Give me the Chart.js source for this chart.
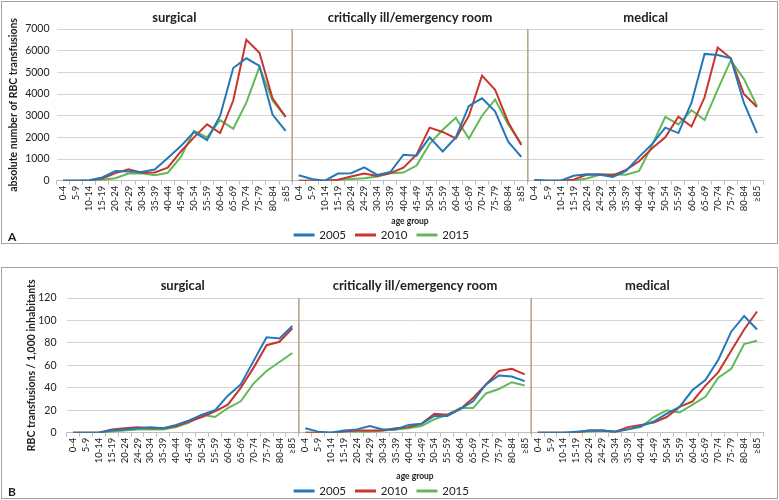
<!DOCTYPE html>
<html>
<head>
<meta charset="utf-8">
<script src="https://cdn.jsdelivr.net/npm/chart.js@4"></script>
<style>
	body { margin: 0; background: #fff; width: 779px; height: 500px; position: relative; overflow: hidden; }
	.frame { position: absolute; border: 1px solid #a3a3a3; box-sizing: border-box; pointer-events: none; }
	#frameA { left: 1px; top: 1px; width: 777px; height: 243px; }
	#frameB { left: 1px; top: 267px; width: 777px; height: 232px; }
	.wrap { position: absolute; left: 0; width: 779px; }
	#wrapA { top: 0; height: 247px; }
	#wrapB { top: 263px; height: 237px; }
</style>
</head>
<body>
<div class="wrap" id="wrapA"><canvas id="chartA" width="779" height="247"></canvas></div>
<div class="wrap" id="wrapB"><canvas id="chartB" width="779" height="237"></canvas></div>
<div class="frame" id="frameA"></div>
<div class="frame" id="frameB"></div>
<script>
	// age groups (x axis, repeated for each ward)
	const ageGroups = ['0-4','5-9','10-14','15-19','20-24','24-29','30-34','35-39','40-44','45-49','50-54','55-59','60-64','65-69','70-74','75-79','80-84','≥85'];
	const wards = ['surgical', 'critically ill/emergency room', 'medical'];
	const years = ['2005', '2010', '2015'];
	const colors = ['#2477b9', '#c9342c', '#62b957'];

	// A : absolute number of RBC transfusions
	const absSurgical2005 = [0, 0, 20, 150, 450, 430, 400, 520, 1050, 1600, 2250, 1880, 3000, 5200, 5650, 5300, 3050, 2300];
	const absSurgical2010 = [0, 0, 10, 100, 350, 530, 370, 380, 600, 1350, 2000, 2600, 2200, 3700, 6500, 5900, 3800, 2950];
	const absSurgical2015 = [0, 0, 0, 50, 120, 330, 350, 250, 370, 1100, 2300, 2000, 2800, 2400, 3600, 5250, 3700, 2950];
	const absCritical2005 = [250, 80, 0, 330, 350, 620, 270, 400, 1200, 1150, 2000, 1350, 2000, 3450, 3800, 3200, 1800, 1100];
	const absCritical2010 = [0, 0, 0, 50, 200, 330, 220, 350, 600, 1200, 2450, 2250, 1950, 3000, 4850, 4200, 2700, 1650];
	const absCritical2015 = [0, 0, 0, 20, 80, 120, 200, 350, 380, 700, 1700, 2350, 2900, 1950, 3000, 3750, 2600, 1700];
	const absMedical2005 = [30, 0, 0, 230, 300, 280, 180, 450, 1100, 1700, 2450, 2200, 3600, 5850, 5800, 5650, 3600, 2200];
	const absMedical2010 = [0, 0, 0, 50, 280, 300, 250, 500, 900, 1500, 2000, 2950, 2500, 3850, 6150, 5650, 4000, 3400];
	const absMedical2015 = [30, 0, 0, 0, 100, 280, 300, 280, 450, 1650, 2950, 2600, 3250, 2800, 4200, 5550, 4700, 3450];

	// B : RBC transfusions / 1,000 inhabitants
	const relSurgical2005 = [0, 0, 0, 2, 3, 4, 5, 4, 7, 11, 16, 20, 33, 43, 64, 85, 84, 95];
	const relSurgical2010 = [0, 0, 0, 3, 4, 5, 4, 4, 6, 10, 14, 19, 25, 40, 58, 78, 81, 93];
	const relSurgical2015 = [0, 0, 0, 1, 2, 3, 3, 3, 5, 9, 16, 14, 22, 28, 44, 55, 63, 71];
	const relCritical2005 = [4, 1, 0, 2, 3, 6, 3, 3, 7, 8, 15, 15, 21, 28, 43, 51, 50, 46];
	const relCritical2010 = [0, 0, 0, 1, 2, 2, 2, 4, 5, 8, 17, 16, 21, 31, 43, 55, 57, 52];
	const relCritical2015 = [0, 0, 0, 1, 1, 1, 2, 3, 4, 6, 12, 16, 22, 22, 35, 39, 45, 42];
	const relMedical2005 = [0, 0, 0, 1, 2, 2, 1, 3, 6, 10, 17, 23, 38, 47, 65, 90, 104, 92];
	const relMedical2010 = [0, 0, 0, 0, 2, 2, 1, 5, 7, 9, 14, 23, 28, 42, 54, 73, 92, 108];
	const relMedical2015 = [0, 0, 0, 0, 1, 2, 1, 3, 5, 14, 20, 18, 25, 32, 49, 57, 79, 82];

	const labels = [].concat(ageGroups, ageGroups, ageGroups);

	// ward titles, separators and panel letter
	const groupPlugin = {
		id: 'groups',
		beforeDatasetsDraw(chart, args, opts) {
			const x = chart.scales.x;
			const area = chart.chartArea;
			const ctx = chart.ctx;
			ctx.save();
			ctx.strokeStyle = '#b2a27f';
			ctx.lineWidth = 1.5;
			[17, 35].forEach(i => {
				let px = (x.getPixelForValue(i) + x.getPixelForValue(i + 1)) / 2;
				ctx.beginPath();
				ctx.moveTo(px, area.top);
				ctx.lineTo(px, area.bottom + 1);
				ctx.stroke();
			});
			ctx.fillStyle = '#222';
			ctx.font = 'bold 13px Lato';
			ctx.textAlign = 'center';
			ctx.textBaseline = 'middle';
			wards.forEach((w, g) => {
				let cx = (x.getPixelForValue(g * 18) + x.getPixelForValue(g * 18 + 17)) / 2;
				ctx.fillText(w, cx, opts.titleY);
			});
			ctx.font = 'bold 12px Lato';
			ctx.textAlign = 'left';
			ctx.fillText(opts.letter, opts.letterX, opts.letterY);
			ctx.restore();
		}
	};

	function makeDatasets(series) {
		return years.map((year, k) => ({
			label: year,
			data: [].concat(series[k][0], series[k][1], series[k][2]),
			borderColor: colors[k],
			backgroundColor: colors[k],
			borderWidth: 2,
			pointRadius: 0,
			tension: 0,
			segment: {
				borderColor: c => (c.p0DataIndex % 18 === 17 ? 'rgba(0,0,0,0)' : undefined)
			}
		}));
	}

	function drawChart(id, series, p) {
		let config = {
			type: 'line',
			data: { labels: labels, datasets: makeDatasets(series) },
			options: {
				responsive: false,
				animation: false,
				layout: { padding: { left: 0, right: 15.5, top: p.top, bottom: p.bottom } },
				scales: {
					x: {
						offset: true,
						grid: { display: true, drawOnChartArea: false, drawTicks: true, tickLength: 4, color: '#bfbfbf', offset: true },
						border: { display: true, color: '#bfbfbf' },
						ticks: { autoSkip: false, maxRotation: 90, minRotation: 90, padding: 1, color: '#222', font: { family: 'Lato', size: 9.5 } },
						title: { display: true, text: 'age group', color: '#222', font: { family: 'Lato', size: 8.5, weight: 'bold' }, padding: { top: 0, bottom: p.xTitlePad } },
						afterFit: s => { s.height = p.xHeight; }
					},
					y: {
						min: 0,
						max: p.max,
						ticks: { stepSize: p.step, padding: p.tickPad, color: '#222', font: { family: 'Lato', size: 10.5 }, callback: v => String(v) },
						grid: { color: '#d4d4d4', drawTicks: false },
						border: { display: false },
						title: { display: true, text: p.yTitle, color: '#222', font: { family: 'Lato', size: 10.5, weight: 'bold' }, padding: { top: p.yTitlePad, bottom: 0 } },
						afterFit: s => { s.width = p.yWidth; }
					}
				},
				plugins: {
					legend: {
						position: 'bottom',
						labels: { boxWidth: 19, boxHeight: 1, padding: 10, color: '#222', font: { family: 'Lato', size: 11.5 } }
					},
					tooltip: { enabled: false },
					groups: { titleY: p.titleY, letter: p.letter, letterX: p.letterX, letterY: p.letterY }
				}
			},
			plugins: [groupPlugin]
		};
		return new Chart(document.getElementById(id).getContext('2d'), config);
	}

	drawChart('chartA', [
		[absSurgical2005, absCritical2005, absMedical2005],
		[absSurgical2010, absCritical2010, absMedical2010],
		[absSurgical2015, absCritical2015, absMedical2015]
	], {
		top: 29, bottom: -3.75, xHeight: 38.5, xTitlePad: -7.6,
		max: 7000, step: 1000, tickPad: 7, yWidth: 56.5, yTitlePad: 7.7,
		yTitle: 'absolute number of RBC transfusions',
		titleY: 18, letter: 'A', letterX: 8, letterY: 237
	});

	drawChart('chartB', [
		[relSurgical2005, relCritical2005, relMedical2005],
		[relSurgical2010, relCritical2010, relMedical2010],
		[relSurgical2015, relCritical2015, relMedical2015]
	], {
		top: 35, bottom: -6.75, xHeight: 42.5, xTitlePad: -6.6,
		max: 120, step: 20, tickPad: 10, yWidth: 66.5, yTitlePad: 25.7,
		yTitle: 'RBC transfusions / 1,000 inhabitants',
		titleY: 23, letter: 'B', letterX: 8, letterY: 229
	});
</script>
</body>
</html>
